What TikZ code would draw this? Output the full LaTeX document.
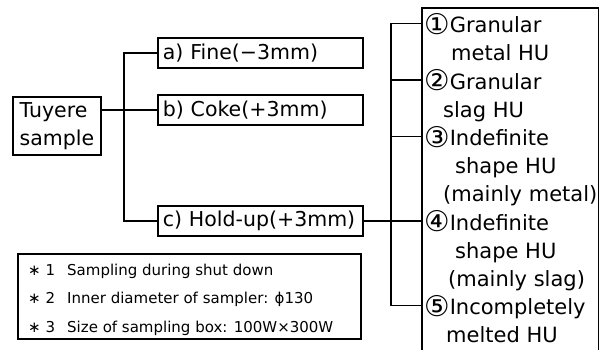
\documentclass[tikz,border=0pt]{standalone}
\usepackage{fontspec}
\setmainfont{DejaVu Sans}
\usepackage{tikz}
\usetikzlibrary{positioning,calc}
\newcommand{\bigtxt}{\fontsize{20.5}{28}\selectfont}
\newcommand{\hutxt}{\fontsize{21}{28}\selectfont}
\newcommand{\notetxt}{\fontsize{15}{18}\selectfont}
\newcommand{\cnum}[1]{\raisebox{-1.8pt}{\fontsize{28.5}{30}\selectfont #1}}
\tikzset{
  srcbox/.style={draw, line width=1.8pt, inner sep=4pt, font=\bigtxt, align=left, minimum width=88pt, minimum height=58pt, anchor=north west},
  catbox/.style={draw, line width=1.8pt, inner sep=5pt, font=\bigtxt, text width=195pt, align=left, minimum height=30pt, anchor=west},
  hutext/.style={inner sep=0pt, font=\hutxt, anchor=base west},
  noteline/.style={inner sep=0pt, font=\notetxt, anchor=base west},
  ln/.style={line width=1.3pt},
  boxln/.style={line width=1.8pt},
}

\begin{document}
\begin{tikzpicture}[x=1pt,y=-1pt]
  \useasboundingbox (0,0) rectangle (600,349);
  \node[srcbox] (ts) at (12,96) {Tuyere\\sample};
  \node[catbox] (a) at (157,53) {a) Fine(−3mm)};
  \node[catbox] (b) at (157,110) {b) Coke(+3mm)};
  \node[catbox] (c) at (157,221) {c) Hold-up(+3mm)};
  \coordinate (trunk) at (124,0);
  \coordinate (br) at (391,0);
  \draw[ln] (ts.east |- b.west) -- (b.west);
  \draw[ln] (a.west) -- (a.west -| trunk) -- (c.west -| trunk) -- (c.west);
  \node[inner sep=0pt, minimum width=176pt, minimum height=346pt, anchor=north west] (hu) at (422,8) {};
  \draw[boxln] (hu.south west) |- (hu.north east) -- (hu.south east);
  \foreach \t/\dx [count=\k] in {\cnum{①}Granular/0, metal HU/27, \cnum{②}Granular/0, slag HU/19,
      \cnum{③}Indefinite/0, shape HU/31, (mainly metal)/19, \cnum{④}Indefinite/0, shape HU/31,
      (mainly slag)/24, \cnum{⑤}Incompletely/0, melted HU/22} {
    \node[hutext] (l\k) at (424+\dx, 32.6+28.2*\k-28.2) {\t};
    \coordinate (m\k) at (0, 23.5+28.2*\k-28.2);
  }
  \draw[ln] (hu.west |- m1) -- (br |- m1) -- (br |- m11) -- (hu.west |- m11);
  \foreach \k in {3,5}
    \draw[ln] (hu.west |- m\k) -- (br |- m\k);
  \draw[ln] (c.east) -- (c.east -| hu.west);
  \node[boxln, draw, inner sep=0pt, minimum width=343pt, minimum height=85pt, anchor=north west] (notes) at (17,253) {};
  \foreach \t [count=\k] in {Sampling during shut down, Inner diameter of sampler: ϕ130,
      Size of sampling box: 100W×300W} {
    \node[noteline] (nm\k) at (28, 275+28.5*\k-28.5) {∗ \k};
    \node[noteline] (nt\k) at (67, 275+28.5*\k-28.5) {\t};
  }
\end{tikzpicture}
\end{document}
